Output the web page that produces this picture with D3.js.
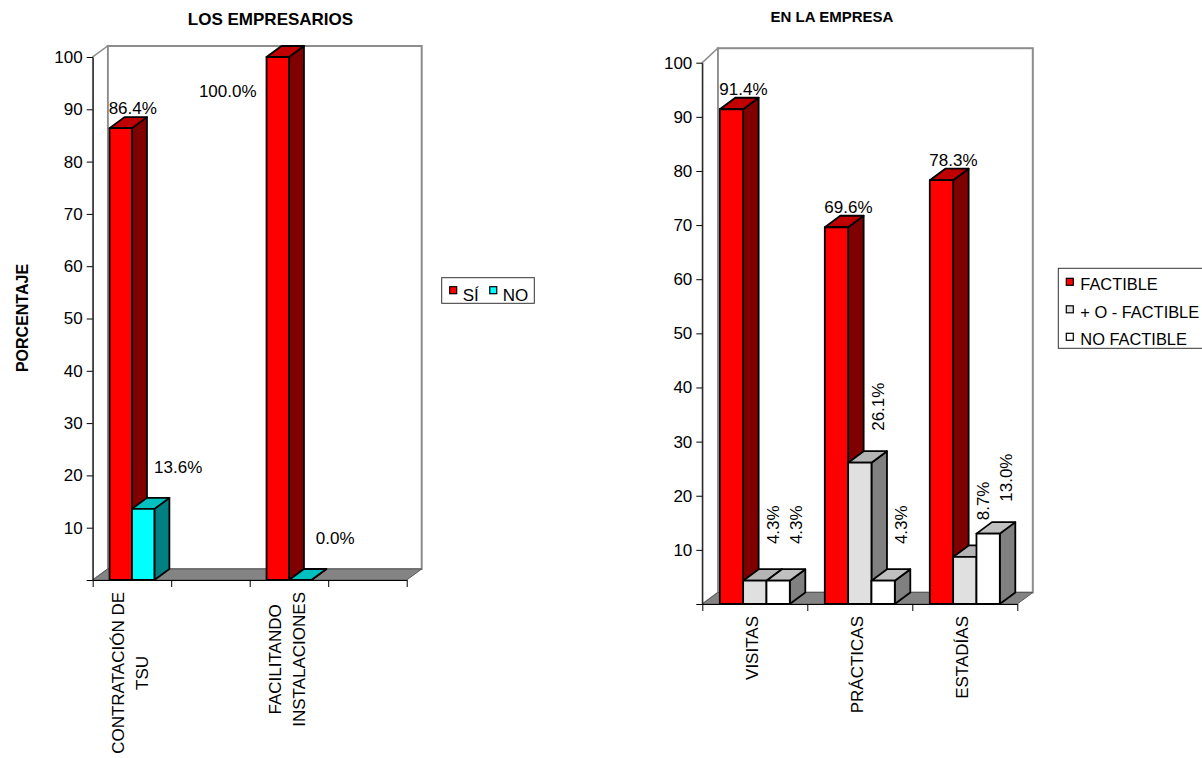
<!DOCTYPE html>
<html>
<head>
<meta charset="utf-8">
<script src="https://cdn.jsdelivr.net/npm/d3@7"></script>
<style>
  html, body { margin: 0; padding: 0; background: #fff; }
  svg { display: block; font-family: "Liberation Sans", Arial, sans-serif; }
</style>
</head>
<body>
<script>
// ---- data -------------------------------------------------------------
// Left chart: empty slots keep the Excel-style category spacing
const empCategories = ["CONTRATACIÓN DE\nTSU", "", "FACILITANDO\nINSTALACIONES", ""];
const empSeriesNames = ["SÍ", "NO"];
const empSi = [86.4, null, 100.0, null];
const empNo = [13.6, null, 0.0, null];

// Right chart
const emprCategories = ["VISITAS", "PRÁCTICAS", "ESTADÍAS"];
const emprSeriesNames = ["FACTIBLE", "+ O - FACTIBLE", "NO FACTIBLE"];
const emprFactible = [91.4, 69.6, 78.3];
const emprMasMenos = [4.3, 26.1, 8.7];
const emprNoFactible = [4.3, 4.3, 13.0];

const yTickValues = [0, 10, 20, 30, 40, 50, 60, 70, 80, 90, 100];

// ---- styles -----------------------------------------------------------
const FONT = 17;
const palette = {
  red:   { front: "#FF0000", top: "#C00000", side: "#800000" },
  cyan:  { front: "#00FFFF", top: "#00C0C0", side: "#008080" },
  gray:  { front: "#E0E0E0", top: "#B4B4B4", side: "#808080" },
  white: { front: "#FFFFFF", top: "#C0C0C0", side: "#808080" }
};

const svg = d3.select("body").append("svg")
  .attr("width", 1202).attr("height", 758);
svg.append("rect").attr("width", 1202).attr("height", 758).attr("fill", "#fff");

const fmt = v => d3.format(".1f")(v) + "%";

// Where a value label sits relative to the front-top centre of its bar
function labelPlacement(mode, cx, top, v) {
  if (mode === "above") {
    if (v >= 100) return { x: cx - 50, y: top + 40, rotate: false };
    return { x: cx + 12, y: top - 14, rotate: false };
  }
  if (mode === "aboveRight") return { x: cx + 35, y: top - 36, rotate: false };
  return { x: cx + 24, y: top - 56, rotate: true };
}

function drawChart(cfg) {
  const g = svg.append("g");
  const n = cfg.categories.length;
  const { dx, dy } = cfg.depth;

  const x = d3.scaleBand().domain(d3.range(n)).range([cfg.x0, cfg.x1]);
  const xb = d3.scaleLinear().domain([0, n]).range([cfg.x0, cfg.x1]);
  const y = d3.scaleLinear().domain([0, 100]).range([cfg.yBottom, cfg.yTop]);
  const bw = x.bandwidth();
  const barW = bw / (cfg.series.length + 1.5);
  const sub = d3.scaleBand().domain(d3.range(cfg.series.length))
    .range([0.75 * barW, 0.75 * barW + barW * cfg.series.length]);

  const y0 = y(0), yMax = y(100);
  const wallTop = yMax + dy - cfg.wallLift;

  // back wall
  g.append("rect")
    .attr("x", cfg.x0 + dx).attr("y", wallTop)
    .attr("width", cfg.x1 - cfg.x0).attr("height", (y0 + dy) - wallTop)
    .attr("fill", "#fff").attr("stroke", "#8c8c8c").attr("stroke-width", 2);
  // side wall
  g.append("path")
    .attr("d", `M${cfg.x0},${y0} L${cfg.x0},${yMax} L${cfg.x0 + dx},${wallTop} L${cfg.x0 + dx},${y0 + dy} Z`)
    .attr("fill", "#fff").attr("stroke", "#8c8c8c").attr("stroke-width", 1.5);
  // floor
  g.append("path")
    .attr("d", `M${cfg.x0},${y0} L${cfg.x1},${y0} L${cfg.x1 + dx},${y0 + dy} L${cfg.x0 + dx},${y0 + dy} Z`)
    .attr("fill", "#848484").attr("stroke", "#5a5a5a").attr("stroke-width", 1);

  // y axis
  const yAxis = g.append("g").attr("transform", `translate(${cfg.x0},0)`)
    .call(d3.axisLeft(y).tickValues(yTickValues).tickSize(6).tickSizeOuter(0).tickPadding(4)
      .tickFormat(d => d === 0 ? "" : d));
  yAxis.selectAll("text").attr("font-size", FONT).attr("fill", "#000")
    .attr("font-family", "Liberation Sans, Arial, sans-serif");
  yAxis.selectAll("line, path").attr("stroke", "#000");

  // x axis: ticks at category boundaries
  const xAxis = g.append("g").attr("transform", `translate(0,${y0})`)
    .call(d3.axisBottom(xb).tickValues(d3.range(n + 1)).tickSize(7).tickSizeOuter(0).tickFormat(""));
  xAxis.selectAll("line, path").attr("stroke", "#000");

  // bars (left to right so later faces overlap earlier side faces)
  const bars = g.append("g");
  const labels = g.append("g");
  cfg.categories.forEach((cat, i) => {
    cfg.series.forEach((s, j) => {
      const v = s.values[i];
      if (v == null) return;
      const bx = x(i) + sub(j);
      const w = sub.bandwidth();
      const top = y(v);
      const c = s.colors;
      const bg = bars.append("g").attr("stroke", "#000").attr("stroke-width", 1.8)
        .attr("stroke-linejoin", "round");
      bg.append("path")
        .attr("d", `M${bx + w},${top} L${bx + w + dx},${top + dy} L${bx + w + dx},${y0 + dy} L${bx + w},${y0} Z`)
        .attr("fill", c.side);
      bg.append("path")
        .attr("d", `M${bx},${top} L${bx + dx},${top + dy} L${bx + w + dx},${top + dy} L${bx + w},${top} Z`)
        .attr("fill", c.top);
      bg.append("rect")
        .attr("x", bx).attr("y", top).attr("width", w).attr("height", y0 - top)
        .attr("fill", c.front);

      const p = labelPlacement(s.labelMode, bx + w / 2, top, v);
      labels.append("text")
        .attr("transform", `translate(${p.x},${p.y})` + (p.rotate ? " rotate(-90)" : ""))
        .attr("text-anchor", "middle")
        .attr("font-size", FONT).attr("fill", "#000")
        .text(fmt(v));
    });
  });

  // category labels, rotated; lines centred on each other, block ends near the axis
  const lineH = 24;
  const capH = FONT * 0.716;
  cfg.categories.forEach((cat, i) => {
    if (!cat) return;
    const lines = cat.split("\n");
    const cx = x(i) + bw / 2 - 2.5;
    const texts = lines.map(ln => g.append("text")
      .attr("text-anchor", "middle")
      .attr("font-size", FONT).attr("fill", "#000")
      .text(ln));
    const maxLen = d3.max(texts, t => t.node().getComputedTextLength());
    const cy = y0 + 12 + maxLen / 2;
    texts.forEach((t, k) => {
      const bx = cx + capH / 2 + (k - (lines.length - 1) / 2) * lineH;
      t.attr("transform", `translate(${bx},${cy}) rotate(-90)`);
    });
  });

  // title
  g.append("text")
    .attr("x", cfg.titleX).attr("y", cfg.titleY)
    .attr("text-anchor", "middle").attr("font-weight", "bold").attr("font-size", cfg.titleSize)
    .text(cfg.title);

  // legend
  const lg = g.append("g");
  lg.append("rect")
    .attr("x", cfg.legend.x).attr("y", cfg.legend.y)
    .attr("width", cfg.legend.w).attr("height", cfg.legend.h)
    .attr("fill", "#fff").attr("stroke", "#333").attr("stroke-width", 1);
  let lx = cfg.legend.x + 8;
  cfg.series.forEach((s, j) => {
    let mx, my, tx, ty;
    if (cfg.legend.vertical) {
      ty = cfg.legend.y + 22 + j * 27.5;
      mx = cfg.legend.x + 8; my = ty - 12;
      tx = mx + 14;
    } else {
      ty = cfg.legend.y + 23;
      mx = lx; my = ty - 14;
      tx = mx + 13;
    }
    lg.append("rect").attr("x", mx).attr("y", my).attr("width", 7).attr("height", 7)
      .attr("fill", s.colors.front).attr("stroke", "#000").attr("stroke-width", 1.2);
    const t = lg.append("text").attr("x", tx).attr("y", ty)
      .attr("font-size", cfg.legend.fontSize).text(s.name);
    lx = tx + t.node().getComputedTextLength() + 11;
  });
}

// y axis title
svg.append("text")
  .attr("transform", "translate(28,318) rotate(-90)")
  .attr("text-anchor", "middle").attr("font-weight", "bold").attr("font-size", 16)
  .text("PORCENTAJE");

drawChart({
  title: "LOS EMPRESARIOS", titleX: 270.5, titleY: 25, titleSize: FONT,
  categories: empCategories,
  series: [
    { name: empSeriesNames[0], values: empSi, colors: palette.red, labelMode: "above" },
    { name: empSeriesNames[1], values: empNo, colors: palette.cyan, labelMode: "aboveRight" }
  ],
  x0: 92.7, x1: 406.7, yBottom: 580, yTop: 57,
  depth: { dx: 15, dy: -11 }, wallLift: 0,
  legend: { x: 441.7, y: 277.7, w: 92.6, h: 25.6, vertical: false, fontSize: FONT }
});

drawChart({
  title: "EN LA EMPRESA", titleX: 832, titleY: 22, titleSize: 15,
  categories: emprCategories,
  series: [
    { name: emprSeriesNames[0], values: emprFactible, colors: palette.red, labelMode: "above" },
    { name: emprSeriesNames[1], values: emprMasMenos, colors: palette.gray, labelMode: "vertical" },
    { name: emprSeriesNames[2], values: emprNoFactible, colors: palette.white, labelMode: "vertical" }
  ],
  x0: 702.3, x1: 1017.3, yBottom: 604, yTop: 62.7,
  depth: { dx: 15.5, dy: -11.5 }, wallLift: 3,
  legend: { x: 1058.3, y: 268.3, w: 170, h: 80, vertical: true, fontSize: 16.4 }
});
</script>
</body>
</html>
